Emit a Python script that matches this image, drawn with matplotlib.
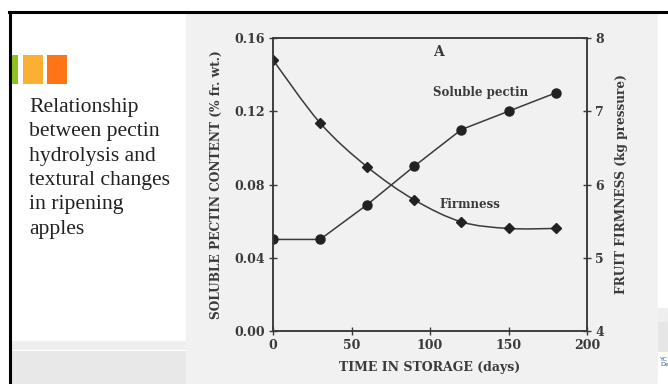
"""Slide: pectin hydrolysis vs. firmness in ripening apples."""

import matplotlib

matplotlib.use("Agg")
import matplotlib.pyplot as plt
from matplotlib.patches import PathPatch, Rectangle
from matplotlib.path import Path

# data
days = [0, 30, 60, 90, 120, 150, 180]
soluble_pectin = [0.050, 0.050, 0.069, 0.090, 0.110, 0.120, 0.130]
firmness = [7.70, 6.84, 6.24, 5.79, 5.49, 5.40, 5.40]
pectin_ticks = [0.00, 0.04, 0.08, 0.12, 0.16]
firmness_ticks = [4, 5, 6, 7, 8]
day_ticks = [0, 50, 100, 150, 200]
caption = "Relationship\nbetween pectin\nhydrolysis and\ntextural changes\nin ripening\napples"

INK = "#3a3a3a"
W, H = 668, 384


def px_box(x0, y0, x1, y1):
    # pixel box (top-left origin) -> figure fraction rect
    return [x0 / W, 1 - y1 / H, (x1 - x0) / W, (y1 - y0) / H]


def smooth_path(xs, ys):
    # Catmull-Rom through the points, written as cubic Bezier pieces
    pts = list(zip(xs, ys))
    verts = [pts[0]]
    codes = [Path.MOVETO]
    for i in range(len(pts) - 1):
        p0 = pts[i - 1] if i > 0 else pts[i]
        p1, p2 = pts[i], pts[i + 1]
        p3 = pts[i + 2] if i + 2 < len(pts) else pts[i + 1]
        c1 = (p1[0] + (p2[0] - p0[0]) / 6, p1[1] + (p2[1] - p0[1]) / 6)
        c2 = (p2[0] - (p3[0] - p1[0]) / 6, p2[1] - (p3[1] - p1[1]) / 6)
        verts += [c1, c2, p2]
        codes += [Path.CURVE4] * 3
    return Path(verts, codes)


fig = plt.figure(figsize=(W / 100, H / 100), dpi=100, facecolor="white")

# slide decoration
bg = fig.add_axes([0, 0, 1, 1])
bg.set_xlim(0, W)
bg.set_ylim(H, 0)
bg.axis("off")
bg.add_patch(Rectangle((186, 13), 472, H - 13, color="#f1f1f1", lw=0))
bg.add_patch(Rectangle((10, 341), 176, 9, color="#efefef", lw=0))
bg.add_patch(Rectangle((10, 351), 176, H - 351, color="#e8e8e8", lw=0))
bg.add_patch(Rectangle((658, 308), 10, 14, color="#eeeeee", lw=0))
bg.add_patch(Rectangle((658, 322), 10, 30, color="#e6e6e6", lw=0))
bg.plot([9, W], [12, 12], color="black", lw=2.2)
bg.plot([9.5, 9.5], [12, H], color="black", lw=2.2)
for x0, x1, color in [(9, 18, "#8dc21f"), (23, 43, "#fbb034"), (47, 67, "#ff7417")]:
    bg.add_patch(Rectangle((x0, 55), x1 - x0, 29, color=color, lw=0))
bg.text(29, 98, caption, family="Liberation Serif", fontsize=15.6, color="#222222",
        va="top", ha="left", linespacing=1.38)
bg.text(660, 362, "YC\nDe", fontsize=4.5, color="#2b5d9a", va="center", linespacing=0.9)

# scanned chart
ax = fig.add_axes(px_box(273, 38, 587, 331))
ax.set_facecolor("none")
ax2 = ax.twinx()

ax.plot(days, soluble_pectin, color=INK, lw=1.1, marker="o", markersize=6.5,
        markerfacecolor="#222222", markeredgecolor="#222222")
ax2.plot(days, firmness, linestyle="none", marker="D", markersize=5.5,
         markerfacecolor="#222222", markeredgecolor="#222222")
ax2.add_patch(PathPatch(smooth_path(days, firmness), facecolor="none",
                        edgecolor=INK, lw=1.1))

font = dict(family="DejaVu Serif", fontweight="bold", color=INK)
ax.set_xlim(0, 200)
ax.set_ylim(0, 0.16)
ax2.set_ylim(4, 8)
ax.set_xticks(day_ticks)
ax.set_yticks(pectin_ticks)
ax2.set_yticks(firmness_ticks)
ax.set_xticklabels([str(d) for d in day_ticks], **font, fontsize=9)
ax.set_yticklabels([f"{v:.2f}" for v in pectin_ticks], **font, fontsize=9)
ax2.set_yticklabels([str(v) for v in firmness_ticks], **font, fontsize=9)
for a in (ax, ax2):
    a.tick_params(direction="inout", length=6, width=1, color=INK, pad=3)
    for spine in a.spines.values():
        spine.set_color(INK)
        spine.set_linewidth(1.1)

ax.set_xlabel("TIME IN STORAGE (days)", **font, fontsize=9, labelpad=6)
ax.set_ylabel("SOLUBLE PECTIN CONTENT (% fr. wt.)", **font, fontsize=8.7, labelpad=8)
ax2.set_ylabel("FRUIT FIRMNESS (kg pressure)", **font, fontsize=8.7, labelpad=8)

ax.text(102, 0.150, "A", **font, fontsize=10)
ax.text(102, 0.1305, "Soluble pectin", **font, fontsize=8.5, va="center")
ax.text(106, 0.0693, "Firmness", **font, fontsize=8.5, va="center")

fig.savefig("out.png", dpi=100, facecolor="white")
